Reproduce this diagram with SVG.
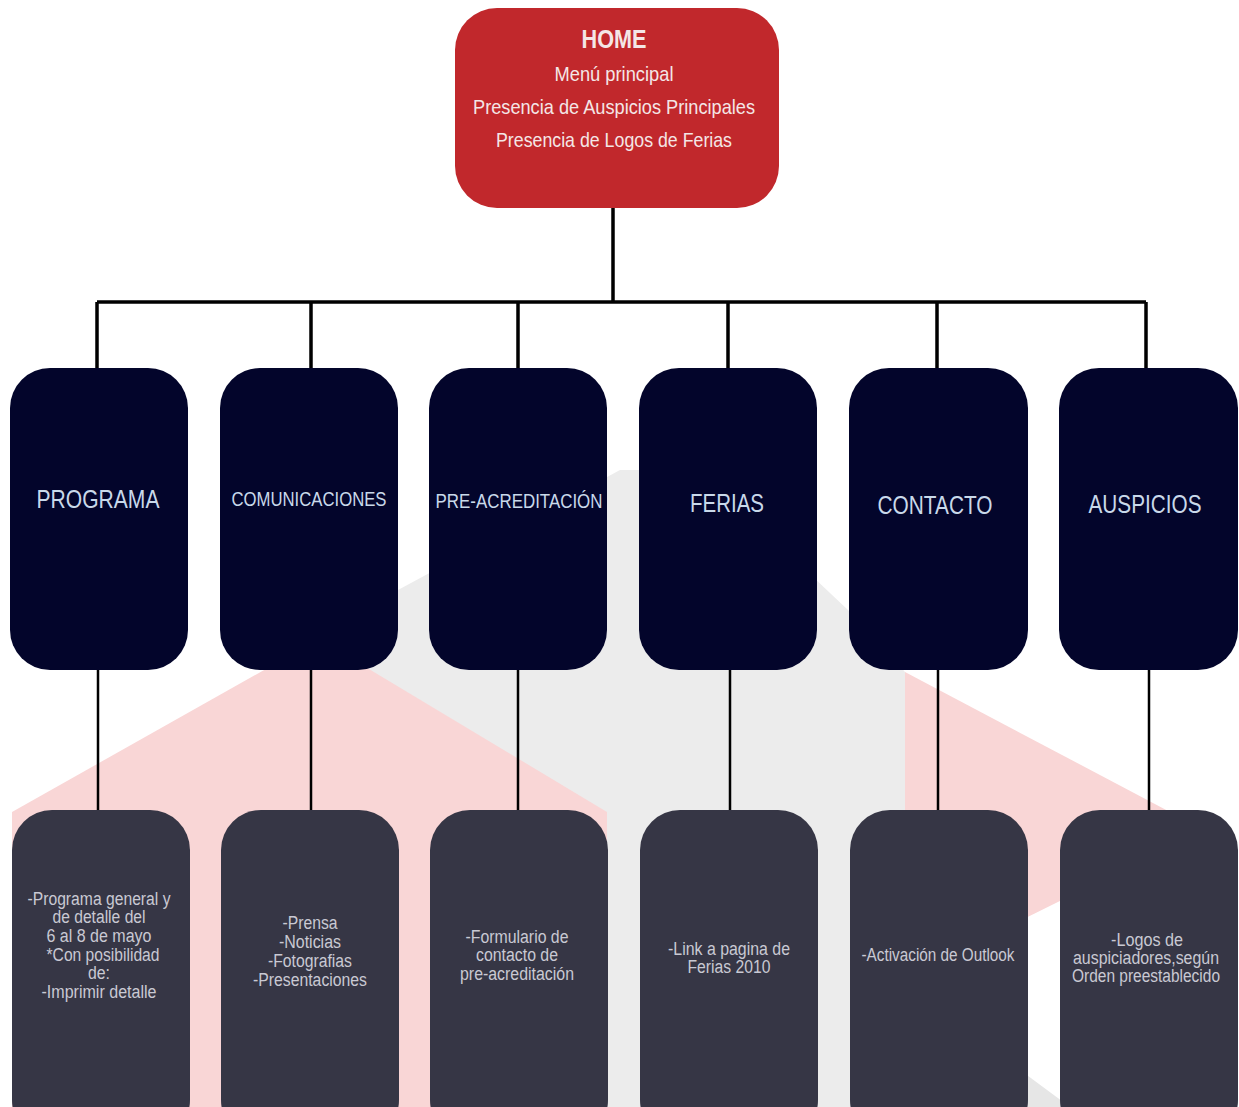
<svg xmlns="http://www.w3.org/2000/svg" width="1239" height="1107" viewBox="0 0 1239 1107">
<style>
.home{fill:#c1282c}
.top{fill:#03052b}
.bot{fill:#363645}
.ht{font-family:"Liberation Sans",Arial,sans-serif;fill:#f4e6e6;text-anchor:middle}
.tt{font-family:"Liberation Sans",Arial,sans-serif;fill:#c9d9ea;text-anchor:middle}
.bt{font-family:"Liberation Sans",Arial,sans-serif;fill:#c9c9d3;text-anchor:middle;font-size:18px}
.c1{stroke:#000;stroke-width:3.5;fill:none}
.c2{stroke:#000;stroke-width:2.5;fill:none}
</style>
<rect x="0" y="0" width="1239" height="1107" fill="#ffffff"/>
<g id="background">
<polygon points="300,700 398,590 620,470 700,470 848,610 905,672 905,1107 300,1107" fill="#ececec"/>
<polygon points="1000,1055 1070,1107 1000,1107" fill="#e6e6e6"/>
<polygon points="12,812 319,639 607,812 607,1107 12,1107" fill="#f9d6d6"/>
<polygon points="905,672 1170,812 1070,896 905,978" fill="#f9d6d6"/>
</g>
<g id="connectors">
<path class="c1" d="M613,208 V302 M97,302 H1146 M97,302 V368 M311,302 V368 M518,302 V368 M728,302 V368 M937,302 V368 M1146,302 V368"/>
<path class="c2" d="M98,670 V810 M311,670 V810 M518,670 V810 M730,670 V810 M938,670 V810 M1149,670 V810"/>
</g>
<g id="home">
<rect class="home" x="455" y="8" width="324" height="200" rx="42"/>
<text class="ht" x="614" y="48" font-size="26" font-weight="bold" textLength="65" lengthAdjust="spacingAndGlyphs">HOME</text>
<text class="ht" x="614" y="81" font-size="21" textLength="119" lengthAdjust="spacingAndGlyphs">Menú principal</text>
<text class="ht" x="614" y="114" font-size="21" textLength="282" lengthAdjust="spacingAndGlyphs">Presencia de Auspicios Principales</text>
<text class="ht" x="614" y="147" font-size="21" textLength="236" lengthAdjust="spacingAndGlyphs">Presencia de Logos de Ferias</text>
</g>
<g id="programa">
<rect class="top" x="10" y="368" width="178" height="302" rx="40"/>
<text class="tt" x="98" y="508" font-size="26" textLength="123" lengthAdjust="spacingAndGlyphs">PROGRAMA</text>
</g>
<g id="comunicaciones">
<rect class="top" x="220" y="368" width="178" height="302" rx="40"/>
<text class="tt" x="309" y="506" font-size="21" textLength="155" lengthAdjust="spacingAndGlyphs">COMUNICACIONES</text>
</g>
<g id="preacreditacion">
<rect class="top" x="429" y="368" width="178" height="302" rx="40"/>
<text class="tt" x="519" y="508" font-size="21" textLength="167" lengthAdjust="spacingAndGlyphs">PRE-ACREDITACIÓN</text>
</g>
<g id="ferias">
<rect class="top" x="639" y="368" width="178" height="302" rx="40"/>
<text class="tt" x="727" y="512" font-size="26" textLength="74" lengthAdjust="spacingAndGlyphs">FERIAS</text>
</g>
<g id="contacto">
<rect class="top" x="849" y="368" width="179" height="302" rx="40"/>
<text class="tt" x="935" y="514" font-size="26" textLength="115" lengthAdjust="spacingAndGlyphs">CONTACTO</text>
</g>
<g id="auspicios">
<rect class="top" x="1059" y="368" width="179" height="302" rx="40"/>
<text class="tt" x="1145" y="513" font-size="26" textLength="113" lengthAdjust="spacingAndGlyphs">AUSPICIOS</text>
</g>
<g id="programa-detalle">
<rect class="bot" x="12" y="810" width="178" height="330" rx="40"/>
<text class="bt" x="99" y="905" textLength="143" lengthAdjust="spacingAndGlyphs">-Programa general y</text>
<text class="bt" x="99" y="923" textLength="93" lengthAdjust="spacingAndGlyphs">de detalle del</text>
<text class="bt" x="99" y="942" textLength="105" lengthAdjust="spacingAndGlyphs">6 al 8 de mayo</text>
<text class="bt" x="103" y="961" textLength="113" lengthAdjust="spacingAndGlyphs">*Con  posibilidad</text>
<text class="bt" x="99" y="979" textLength="22" lengthAdjust="spacingAndGlyphs">de:</text>
<text class="bt" x="99" y="998" textLength="115" lengthAdjust="spacingAndGlyphs">-Imprimir detalle</text>
</g>
<g id="comunicaciones-detalle">
<rect class="bot" x="221" y="810" width="178" height="330" rx="40"/>
<text class="bt" x="310" y="929" textLength="55" lengthAdjust="spacingAndGlyphs">-Prensa</text>
<text class="bt" x="310" y="948" textLength="62" lengthAdjust="spacingAndGlyphs">-Noticias</text>
<text class="bt" x="310" y="967" textLength="84" lengthAdjust="spacingAndGlyphs">-Fotografias</text>
<text class="bt" x="310" y="986" textLength="114" lengthAdjust="spacingAndGlyphs">-Presentaciones</text>
</g>
<g id="preacreditacion-detalle">
<rect class="bot" x="430" y="810" width="178" height="330" rx="40"/>
<text class="bt" x="517" y="943" textLength="103" lengthAdjust="spacingAndGlyphs">-Formulario de</text>
<text class="bt" x="517" y="961" textLength="82" lengthAdjust="spacingAndGlyphs">contacto de</text>
<text class="bt" x="517" y="980" textLength="114" lengthAdjust="spacingAndGlyphs">pre-acreditación</text>
</g>
<g id="ferias-detalle">
<rect class="bot" x="640" y="810" width="178" height="330" rx="40"/>
<text class="bt" x="729" y="955" textLength="122" lengthAdjust="spacingAndGlyphs">-Link a pagina de</text>
<text class="bt" x="729" y="973" textLength="83" lengthAdjust="spacingAndGlyphs">Ferias 2010</text>
</g>
<g id="contacto-detalle">
<rect class="bot" x="850" y="810" width="178" height="330" rx="40"/>
<text class="bt" x="938" y="961" textLength="153" lengthAdjust="spacingAndGlyphs">-Activación de Outlook</text>
</g>
<g id="auspicios-detalle">
<rect class="bot" x="1060" y="810" width="178" height="330" rx="40"/>
<text class="bt" x="1147" y="946" textLength="72" lengthAdjust="spacingAndGlyphs">-Logos de</text>
<text class="bt" x="1146" y="964" textLength="146" lengthAdjust="spacingAndGlyphs">auspiciadores,según</text>
<text class="bt" x="1146" y="982" font-size="16" textLength="148" lengthAdjust="spacingAndGlyphs">Orden preestablecido</text>
</g>
</svg>
